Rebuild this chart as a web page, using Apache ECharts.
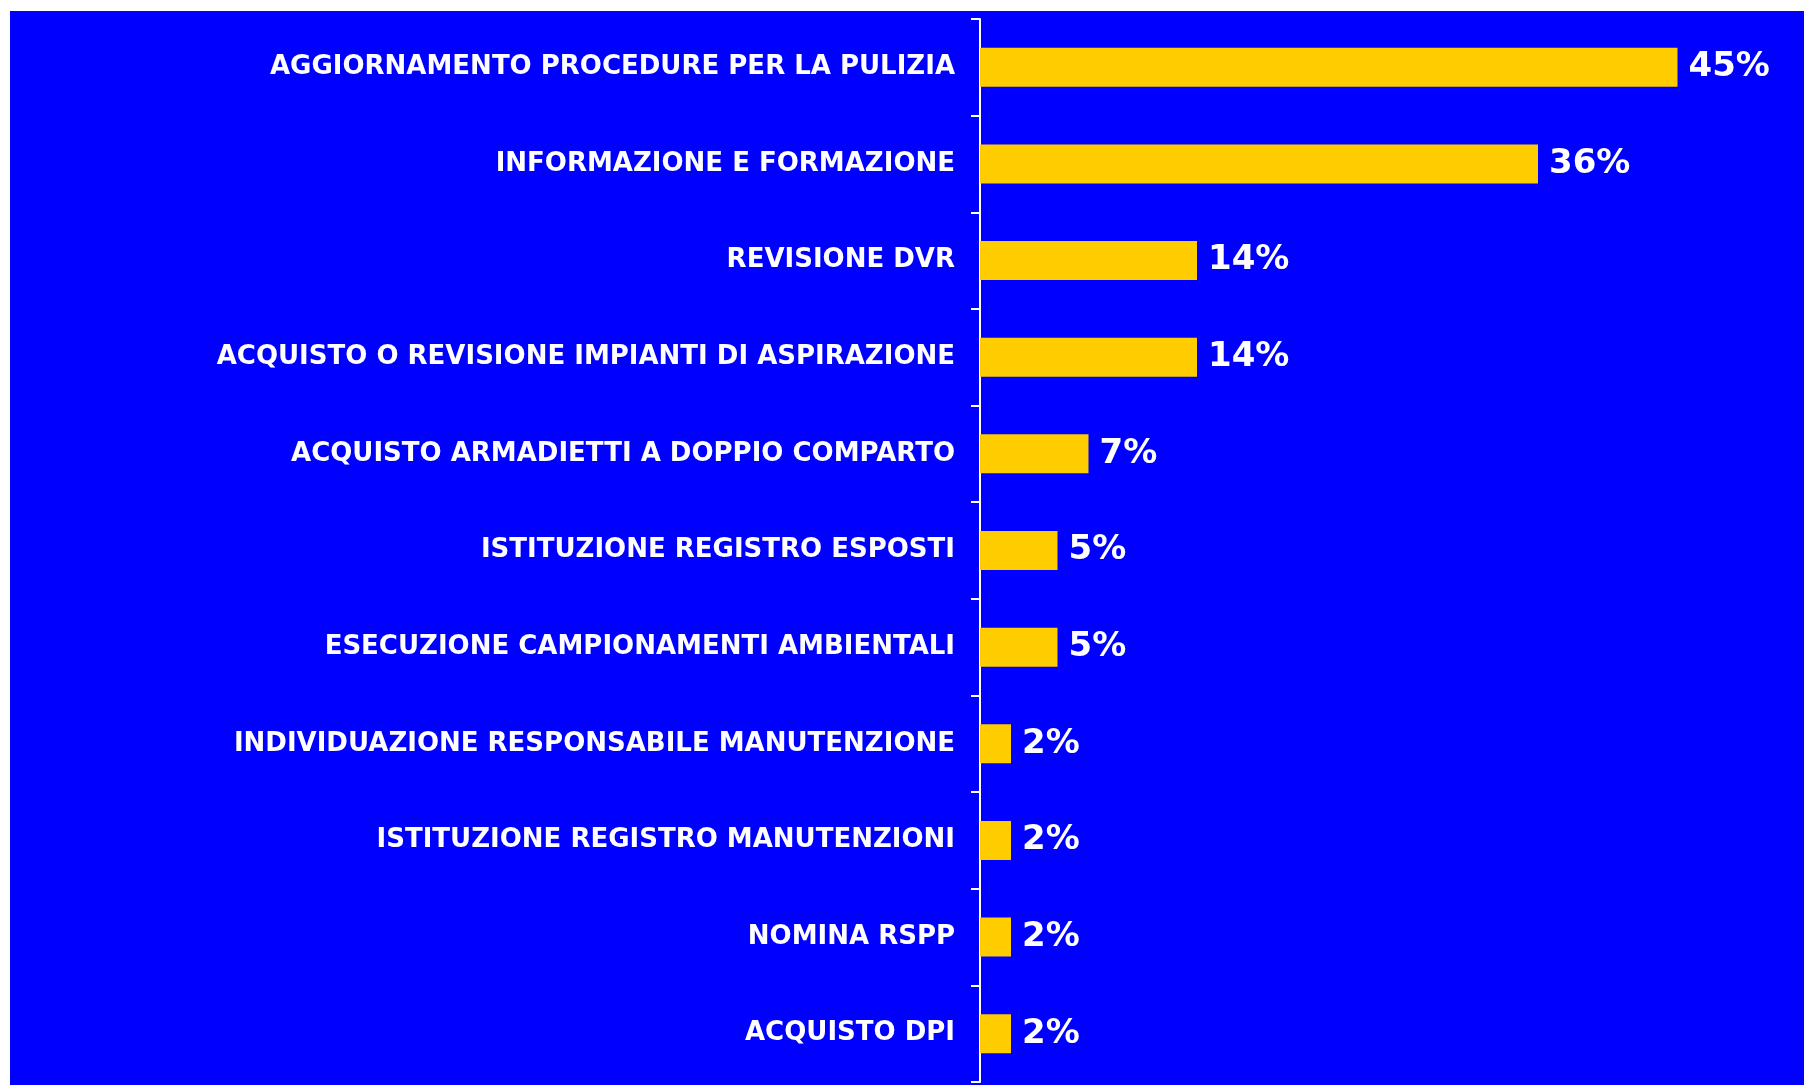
<!DOCTYPE html>
<html>
<head>
<meta charset="utf-8">
<script src="https://cdn.jsdelivr.net/npm/echarts@6/dist/echarts.min.js"></script>
<style>
html,body{margin:0;padding:0;background:#ffffff;}
#chart{width:1804px;height:1085px;}
</style>
</head>
<body>
<div id="chart"></div>
<script>
const categories = [
  "AGGIORNAMENTO PROCEDURE PER LA PULIZIA",
  "INFORMAZIONE E FORMAZIONE",
  "REVISIONE DVR",
  "ACQUISTO O REVISIONE IMPIANTI DI ASPIRAZIONE",
  "ACQUISTO ARMADIETTI A DOPPIO COMPARTO",
  "ISTITUZIONE REGISTRO ESPOSTI",
  "ESECUZIONE CAMPIONAMENTI AMBIENTALI",
  "INDIVIDUAZIONE RESPONSABILE MANUTENZIONE",
  "ISTITUZIONE REGISTRO MANUTENZIONI",
  "NOMINA RSPP",
  "ACQUISTO DPI"
];
const values = [45, 36, 14, 14, 7, 5, 5, 2, 2, 2, 2];

const chart = echarts.init(document.getElementById('chart'), null, {renderer: 'canvas'});
chart.setOption({
  backgroundColor: '#ffffff',
  animation: false,
  graphic: [{
    type: 'rect',
    silent: true,
    z: -100,
    shape: {x: 10, y: 11, width: 1794, height: 1074},
    style: {fill: '#0000ff'}
  }],
  grid: {left: 980, right: 49, top: 19, bottom: 3, containLabel: false},
  xAxis: {
    type: 'value', min: 0, max: 50, show: false
  },
  yAxis: {
    type: 'category',
    data: categories,
    inverse: true,
    axisLine: {show: true, lineStyle: {color: '#ffffff', width: 2}},
    axisTick: {show: true, length: 9, lineStyle: {color: '#ffffff', width: 2}},
    axisLabel: {
      color: '#ffffff',
      fontFamily: 'DejaVu Sans',
      fontWeight: 'bold',
      fontSize: 26,
      margin: 25
    },
    splitLine: {show: false}
  },
  series: [{
    type: 'bar',
    data: values,
    barWidth: 39,
    itemStyle: {color: '#ffcc00'},
    label: {
      show: true,
      position: 'right',
      distance: 11,
      formatter: '{c}%',
      color: '#ffffff',
      fontFamily: 'DejaVu Sans',
      fontWeight: 'bold',
      fontSize: 34
    }
  }]
});
</script>
</body>
</html>
